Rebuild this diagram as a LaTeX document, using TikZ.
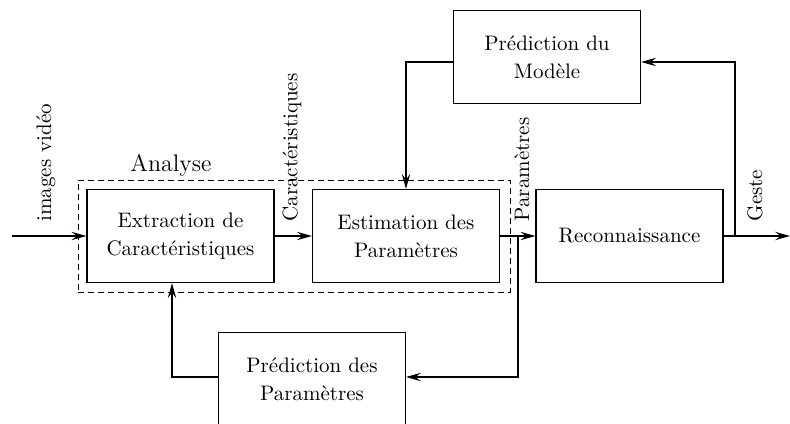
\documentclass[tikz,border=0pt]{standalone}
\usetikzlibrary{arrows.meta}
\begin{document}
\begin{tikzpicture}[x=0.5pt,y=-0.5pt, line width=0.6pt,
  blk/.style={draw, minimum width=93.5pt, minimum height=46.5pt, inner sep=0pt, align=center, font=\fontsize{10.5}{14}\selectfont},
  arr/.style={-{Stealth[length=7.5pt,width=4.2pt,inset=2.8pt]}},
  lbl/.style={rotate=90, anchor=west, inner sep=0pt, font=\fontsize{10.5}{12}\selectfont}]
\clip (0,0) rectangle (790,423);
\node[blk] (ext) at (180.5,236) {Extraction de\\Caractéristiques};
\node[blk] (est) at (406,236) {Estimation des\\Paramètres};
\node[blk] (rec) at (629.5,236) {Reconnaissance};
\node[blk] (pm) at (547,57) {Prédiction du\\Modèle};
\node[blk] (pp) at (312,379) {Prédiction des\\Paramètres};
\node[draw, line width=0.5pt, dash pattern=on 3pt off 2pt, minimum width=216pt, minimum height=56pt, inner sep=0pt] (ana) at (294,236) {};
\node[font=\large, anchor=base, inner sep=0pt] (anat) at (171,171) {Analyse};
\coordinate (in) at (12,236);
\draw[arr] (in) -- (ext.west);
\draw[arr] (ext) -- (est);
\draw[arr] (est) -- (rec);
\coordinate (pj) at (518,236);
\coordinate (pr) at (406,377);
\draw[arr] (pj) |- (pr);
\coordinate (fb) at (172,377);
\draw[arr] (pp.west |- fb) -- (fb) -- (fb |- ext.south);
\coordinate (out) at (790,236);
\draw[arr] (rec) -- (out);
\coordinate (gj) at (735,236);
\coordinate (gt) at (735,62);
\draw[arr] (gj) -- (gt) -- (pm.east |- gt);
\draw[arr] (pm.west |- gt) -| (est.north);
\node[lbl] (liv) at (46,222) {images vidéo};
\node[lbl] (lcar) at (292,222) {Caractéristiques};
\node[lbl] (lpar) at (522,222) {Paramètres};
\node[lbl] (lges) at (755,222) {Geste};
\end{tikzpicture}
\end{document}
